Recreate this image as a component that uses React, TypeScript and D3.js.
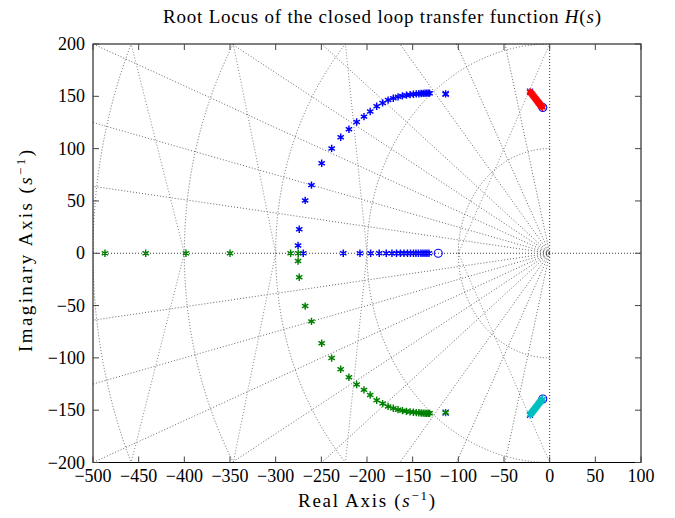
import React from 'react';
import * as d3 from 'd3';

const W = 675;
const H = 518;

// axis ticks
const xTicks = [-500, -450, -400, -350, -300, -250, -200, -150, -100, -50, 0, 50, 100];
const yTicks = [-200, -150, -100, -50, 0, 50, 100, 150, 200];

// upper complex branch (blue), lower branch (green) is its mirror
const arcRe = [-113.9, -131.5, -133.0, -134.7, -136.5, -138.5, -140.7, -143.2, -146.0, -149.2, -152.8, -156.8, -161.2, -166.0, -171.2, -176.9, -182.9, -189.4, -196.5, -203.3, -211.3, -219.8, -228.8, -238.7, -249.6, -260.8, -267.7, -274.2, -275.5];
const arcIm = [152.3, 153.0, 153.0, 153.0, 152.9, 152.8, 152.7, 152.5, 152.3, 152.0, 151.6, 151.1, 150.4, 149.5, 148.2, 146.4, 143.7, 140.5, 135.5, 130.6, 125.5, 118.5, 110.9, 100.2, 86.0, 65.1, 50.5, 22.9, 7.4];

// real-axis parts of the loci
const blueAxisRe = [-269.8, -226.0, -207.7, -196.0, -186.6, -178.9, -172.7, -167.7, -163.4, -159.5, -155.7, -152.4, -149.1, -146.4, -143.7, -140.9, -138.7, -136.5, -134.4, -132.2];
const greenAxisRe = [-275.3, -283.6, -350.0, -398.2, -442.3, -486.9];

// red branch (upper), cyan is its mirror
const redRe = [-21.5, -20.6, -19.8, -19.0, -18.2, -17.4, -16.6, -15.8, -15.0, -14.2, -13.4, -12.6, -11.9, -11.2, -10.5, -9.8, -9.1, -8.4, -7.8];
const redIm = [154.5, 153.5, 152.6, 151.7, 150.8, 149.9, 149.0, 148.1, 147.2, 146.3, 145.4, 144.5, 143.7, 142.9, 142.1, 141.3, 140.6, 139.9, 139.3];

// open-loop poles and zeros
const poleRe = [-113.9, -113.9, -21.5, -21.5];
const poleIm = [152.3, -152.3, 154.5, -154.5];
const zeroRe = [-122.0, -7.5, -7.5];
const zeroIm = [0, 139.3, -139.3];

// s-plane grid
const dampingSlopes = [0.128, 0.25, 0.4, 0.575, 0.801, 1.22, 1.96, 4.09];
const wnRadii = [100, 200, 300, 400, 500];

const x = d3.scaleLinear().domain([-500, 100]).range([93, 641]);
const y = d3.scaleLinear().domain([-200, 200]).range([462.5, 44]);

const FONT = "'Liberation Serif', 'Times New Roman', serif";
const GRID = '#555';

function star(cx: number, cy: number, r: number) {
  const c = Math.cos(Math.PI / 6) * r;
  const s = Math.sin(Math.PI / 6) * r;
  return `M${cx},${cy - r}L${cx},${cy + r}M${cx - c},${cy - s}L${cx + c},${cy + s}M${cx - c},${cy + s}L${cx + c},${cy - s}`;
}

function Stars({ re, im, color }: { re: number[]; im: number[]; color: string }) {
  return (
    <g>
      {re.map((r, i) => (
        <path key={i} d={star(x(r), y(im[i]), 3.7)} stroke={color} strokeWidth={1.45} fill="none" />
      ))}
    </g>
  );
}

export default function App() {
  const [x0, x1] = x.range();
  const [yb, yt] = y.range();
  const ox = x(0);
  const oy = y(0);
  const sx = (x(100) - x(0)) / 100;
  const sy = (y(0) - y(100)) / 100;
  const yMax = y.domain()[1];

  const rays: string[] = [];
  dampingSlopes.forEach((t) => {
    [1, -1].forEach((sg) => {
      rays.push(`M${ox},${oy}L${x(-2000)},${y(sg * 2000 * t)}`);
    });
  });

  const circles: string[] = [];
  wnRadii.forEach((R) => {
    const rx = R * sx;
    const ry = R * sy;
    circles.push(`M${x(0)},${y(R)}A${rx},${ry} 0 0 0 ${x(-R)},${y(0)}`);
    circles.push(`M${x(0)},${y(-R)}A${rx},${ry} 0 0 1 ${x(-R)},${y(0)}`);
  });

  const connectors: string[] = [];
  for (let k = 0; k < wnRadii.length - 1; k++) {
    const R0 = wnRadii[k];
    const R1 = wnRadii[k + 1];
    let ex = 0;
    let ey = R1;
    if (R1 > yMax) {
      ex = -Math.sqrt(R1 * R1 - yMax * yMax);
      ey = yMax;
    }
    connectors.push(`M${x(-R0)},${y(0)}L${x(ex)},${y(ey)}`);
    connectors.push(`M${x(-R0)},${y(0)}L${x(ex)},${y(-ey)}`);
  }

  const lowerIm = arcIm.map((v) => -v);
  const cyanIm = redIm.map((v) => -v);

  return (
    <svg width={W} height={H} style={{ position: 'absolute', left: 0, top: 0, background: '#fff' }} fontFamily={FONT}>
      <defs>
        <clipPath id="plotclip">
          <rect x={x0} y={yt} width={x1 - x0} height={yb - yt} />
        </clipPath>
      </defs>
      <rect x={0} y={0} width={W} height={H} fill="#fff" />
      <g clipPath="url(#plotclip)" fill="none">
        {rays.map((d, i) => (
          <path key={'r' + i} d={d} stroke={GRID} strokeWidth={0.9} strokeDasharray="1 2" />
        ))}
        {circles.map((d, i) => (
          <path key={'c' + i} d={d} stroke={GRID} strokeWidth={0.9} strokeDasharray="1 2" />
        ))}
        {connectors.map((d, i) => (
          <path key={'k' + i} d={d} stroke="#777" strokeWidth={0.9} strokeDasharray="1 2" />
        ))}
        <line x1={x0} x2={x1} y1={oy} y2={oy} stroke="#222" strokeWidth={0.9} strokeDasharray="1 2" />
        <line x1={ox} x2={ox} y1={yt} y2={yb} stroke="#222" strokeWidth={0.9} strokeDasharray="1 2" />
      </g>

      {/* poles and zeros */}
      <g fill="none" stroke="#0000ff" strokeWidth={1.1}>
        {poleRe.map((r, i) => {
          const cx = x(r);
          const cy = y(poleIm[i]);
          return <path key={'p' + i} d={`M${cx - 3},${cy - 3}L${cx + 3},${cy + 3}M${cx - 3},${cy + 3}L${cx + 3},${cy - 3}`} />;
        })}
        {zeroRe.map((r, i) => (
          <circle key={'z' + i} cx={x(r)} cy={y(zeroIm[i])} r={4} />
        ))}
      </g>

      {/* loci */}
      <Stars re={arcRe} im={arcIm} color="#0000ff" />
      <Stars re={blueAxisRe} im={blueAxisRe.map(() => 0)} color="#0000ff" />
      <Stars re={arcRe} im={lowerIm} color="#008000" />
      <Stars re={greenAxisRe} im={greenAxisRe.map(() => 0)} color="#008000" />
      <Stars re={redRe} im={redIm} color="#ff0000" />
      <Stars re={redRe} im={cyanIm} color="#00bfbf" />

      {/* frame */}
      <rect x={x0} y={yt} width={x1 - x0} height={yb - yt} fill="none" stroke="#000" strokeWidth={1} />

      {/* ticks */}
      <g stroke="#444" strokeWidth={1}>
        {xTicks.map((t) => (
          <g key={'xt' + t}>
            <line x1={x(t)} x2={x(t)} y1={yb} y2={yb - 6} />
            <line x1={x(t)} x2={x(t)} y1={yt} y2={yt + 6} />
          </g>
        ))}
        {yTicks.map((t) => (
          <g key={'yt' + t}>
            <line x1={x0} x2={x0 + 6} y1={y(t)} y2={y(t)} />
            <line x1={x1} x2={x1 - 6} y1={y(t)} y2={y(t)} />
          </g>
        ))}
      </g>

      {/* tick labels */}
      <g fontSize={18} fill="#000">
        {xTicks.map((t) => (
          <text key={'xl' + t} x={x(t)} y={482} textAnchor="middle">
            {t < 0 ? '\u2212' + Math.abs(t) : String(t)}
          </text>
        ))}
        {yTicks.map((t) => (
          <text key={'yl' + t} x={85} y={y(t) + 6} textAnchor="end">
            {t < 0 ? '\u2212' + Math.abs(t) : String(t)}
          </text>
        ))}
      </g>

      {/* title */}
      <text x={382} y={23} textAnchor="middle" fontSize={19} fill="#000" textLength={438}>
        Root Locus of the closed loop transfer function <tspan fontStyle="italic">H</tspan>(<tspan fontStyle="italic">s</tspan>)
      </text>

      {/* axis labels */}
      <text x={366.5} y={507} textAnchor="middle" fontSize={19} fill="#000" textLength={137}>
        Real Axis (<tspan fontStyle="italic">s</tspan>
        <tspan dy={-7} fontSize={13}>{'\u22121'}</tspan>
        <tspan dy={7}>)</tspan>
      </text>
      <text transform="translate(32,251) rotate(-90)" textAnchor="middle" fontSize={19} fill="#000" textLength={202}>
        Imaginary Axis (<tspan fontStyle="italic">s</tspan>
        <tspan dy={-7} fontSize={13}>{'\u22121'}</tspan>
        <tspan dy={7}>)</tspan>
      </text>
    </svg>
  );
}
